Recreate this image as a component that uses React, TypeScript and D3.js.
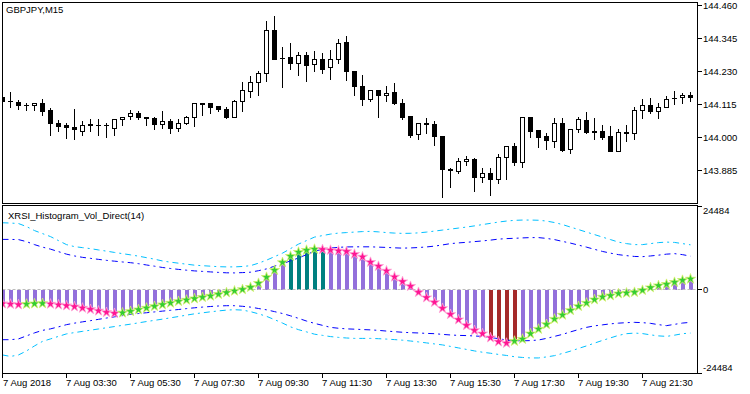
import React from "react";
import * as d3 from "d3";

// GBPJPY M15 candles, 7 Aug 2018 01:30 .. 23:00
const opens = [
  144.139, 144.126, 144.123, 144.111, 144.111, 144.118, 144.095, 144.048, 144.042, 144.035,
  144.021, 144.044, 144.044, 144.041, 144.032, 144.062, 144.074, 144.083, 144.069, 144.067,
  144.046, 144.055, 144.032, 144.048, 144.069, 144.118, 144.12, 144.109, 144.099, 144.072,
  144.125, 144.162, 144.192, 144.222, 144.373, 144.276, 144.278, 144.257, 144.285, 144.255,
  144.273, 144.243, 144.273, 144.331, 144.229, 144.178, 144.134, 144.164, 144.146, 144.157,
  144.118, 144.074, 144.011, 144.047, 144.046, 144.004, 143.887, 143.884, 143.916, 143.926,
  143.861, 143.875, 143.856, 143.93, 143.97, 143.914, 144.069, 144.025, 144.004, 143.988,
  144.048, 143.958, 144.028, 144.06, 144.019, 144.021, 144.004, 143.953, 144.016, 144.016,
  144.095, 144.113, 144.093, 144.106, 144.135, 144.139, 144.146,
];
const highs = [
  144.143, 144.162, 144.132, 144.123, 144.12, 144.137, 144.106, 144.065, 144.053, 144.102,
  144.06, 144.067, 144.067, 144.053, 144.067, 144.074, 144.099, 144.095, 144.072, 144.074,
  144.095, 144.067, 144.067, 144.076, 144.118, 144.118, 144.123, 144.113, 144.109, 144.134,
  144.195, 144.215, 144.234, 144.408, 144.426, 144.317, 144.331, 144.299, 144.299, 144.304,
  144.297, 144.306, 144.345, 144.357, 144.234, 144.22, 144.169, 144.164, 144.181, 144.192,
  144.137, 144.079, 144.053, 144.072, 144.06, 144.004, 143.898, 143.93, 143.937, 143.933,
  143.898, 143.895, 143.944, 143.974, 143.984, 144.074, 144.074, 144.03, 144.018, 144.072,
  144.072, 144.03, 144.074, 144.093, 144.069, 144.046, 144.044, 144.032, 144.046, 144.109,
  144.137, 144.141, 144.123, 144.148, 144.164, 144.157, 144.162,
];
const lows = [
  144.123, 144.106, 144.097, 144.095, 144.095, 144.079, 144.009, 144.021, 143.997, 143.993,
  144.009, 144.023, 144.009, 144.002, 144.009, 144.044, 144.062, 144.062, 144.044, 144.03,
  144.032, 144.014, 144.021, 144.046, 144.039, 144.079, 144.083, 144.09, 144.067, 144.069,
  144.093, 144.139, 144.148, 144.195, 144.271, 144.176, 144.239, 144.218, 144.195, 144.232,
  144.225, 144.204, 144.259, 144.199, 144.146, 144.111, 144.125, 144.072, 144.127, 144.116,
  144.062, 144.002, 143.995, 144.014, 143.974, 143.791, 143.828, 143.877, 143.902, 143.814,
  143.844, 143.8, 143.842, 143.856, 143.905, 143.898, 144.0, 143.967, 143.96, 143.965,
  143.953, 143.946, 144.018, 144.016, 143.993, 143.993, 143.953, 143.953, 143.988, 143.995,
  144.067, 144.086, 144.067, 144.104, 144.116, 144.118, 144.125,
];
const closes = [
  144.125, 144.125, 144.111, 144.111, 144.118, 144.093, 144.048, 144.039, 144.035, 144.028,
  144.042, 144.045, 144.044, 144.042, 144.065, 144.069, 144.083, 144.069, 144.068, 144.046,
  144.055, 144.032, 144.048, 144.072, 144.118, 144.117, 144.106, 144.097, 144.072, 144.127,
  144.164, 144.192, 144.225, 144.373, 144.273, 144.275, 144.257, 144.285, 144.25, 144.273,
  144.239, 144.273, 144.329, 144.229, 144.178, 144.134, 144.164, 144.146, 144.155, 144.118,
  144.072, 144.009, 144.048, 144.048, 144.004, 143.888, 143.888, 143.916, 143.926, 143.861,
  143.875, 143.856, 143.93, 143.97, 143.914, 144.069, 144.023, 144.002, 143.99, 144.048,
  143.956, 144.028, 144.062, 144.018, 144.02, 144.002, 143.953, 144.018, 144.017, 144.095,
  144.113, 144.093, 144.106, 144.134, 144.136, 144.146, 144.139,
];

// XRSI_Histogram_Vol_Direct(14)
const histValues = [
  -4193, -4339, -4486, -4339, -4222, -4134, -4310, -4545, -4779, -5072,
  -5483, -5864, -6304, -6744, -7037, -6890, -6450, -5952, -5483, -4984,
  -4486, -4017, -3518, -3137, -2727, -2346, -1964, -1466, -968, -498,
  -59, 586, 1759, 3518, 5571, 7828, 9676, 10848, 11435, 11728,
  11640, 11435, 11230, 11054, 10262, 9470, 7916, 6744, 5366, 3606,
  2258, 880, -880, -2434, -3812, -5571, -7330, -8884, -10555, -12021,
  -12989, -14162, -15334, -15745, -15158, -14572, -12989, -11640, -10262, -8708,
  -7535, -6157, -4984, -4017, -3020, -2258, -1847, -1261, -1085, -880,
  -293, 498, 1085, 1466, 2052, 2639, 3020,
];
// 0 = neutral, 1 = above upper level, 2 = below lower level
const histColorIndex = [
  0, 0, 0, 0, 0, 0, 0, 0, 0, 0, 0, 0, 0, 0, 0, 0, 0, 0, 0, 0,
  0, 0, 0, 0, 0, 0, 0, 0, 0, 0, 0, 0, 0, 0, 0, 0, 1, 1, 1, 1,
  1, 0, 0, 0, 0, 0, 0, 0, 0, 0, 0, 0, 0, 0, 0, 0, 0, 0, 0, 0,
  0, 2, 2, 2, 2, 0, 0, 0, 0, 0, 0, 0, 0, 0, 0, 0, 0, 0, 0, 0,
  0, 0, 0, 0, 0, 0, 0,
];
const upperOuter = [
  19439, 19351, 19205, 18325, 17152, 16273, 15393, 14220, 13047, 12461,
  12168, 11875, 11493, 11142, 10760, 10409, 10057, 9676, 9236, 8796,
  8268, 7916, 7623, 7330, 7037, 6890, 6744, 6597, 6538, 6538,
  6656, 6890, 7623, 8503, 9529, 10555, 11875, 13194, 14220, 15246,
  15686, 16126, 16419, 16566, 16712, 16859, 16918, 16771, 16566, 16419,
  16331, 16361, 16478, 16712, 17006, 17299, 17592, 17885, 18178, 18530,
  18911, 19263, 19644, 19938, 20143, 20231, 20231, 20172, 19938, 19498,
  18911, 18178, 17445, 16712, 15979, 15246, 14513, 13780, 13341, 13047,
  13047, 13341, 13634, 13780, 13692, 13341, 12989,
];
const upperInner = [
  14572, 14572, 14513, 13927, 13047, 12314, 11728, 10995, 10262, 9734,
  9324, 9031, 8737, 8444, 8210, 7975, 7770, 7477, 7095, 6744,
  6362, 6069, 5805, 5571, 5366, 5219, 5072, 4926, 4808, 4779,
  4867, 4984, 5424, 5952, 6744, 7477, 8298, 9148, 10115, 11142,
  11669, 12021, 12256, 12373, 12402, 12402, 12402, 12314, 12226, 12109,
  12021, 12080, 12197, 12373, 12608, 12959, 13341, 13546, 13722, 13927,
  14132, 14367, 14660, 14807, 14895, 15012, 15100, 15100, 14865, 14513,
  13986, 13487, 12901, 12314, 11669, 11054, 10555, 10115, 9822, 9588,
  9529, 9734, 9969, 10262, 10409, 10115, 9676,
];
const lowerInner = [
  -14748, -14748, -14513, -13634, -12754, -12021, -11581, -10995, -10350, -9910,
  -9529, -9177, -8796, -8415, -8063, -7711, -7330, -7095, -6861, -6626,
  -6392, -6157, -5923, -5659, -5424, -5219, -5043, -4896, -4808, -4808,
  -4984, -5219, -5629, -6011, -6538, -7095, -7770, -8503, -9294, -9969,
  -10555, -11142, -11405, -11581, -11669, -11787, -11875, -12021, -12226, -12402,
  -12578, -12696, -12784, -12901, -12989, -13194, -13370, -13487, -13546, -13663,
  -13780, -14074, -14455, -14836, -15041, -15071, -15012, -14836, -14367, -13780,
  -13194, -12461, -11787, -11142, -10702, -10409, -10115, -9910, -9764, -9676,
  -9764, -9969, -10350, -10643, -10262, -9881, -9676,
];
const lowerOuter = [
  -19205, -19644, -19205, -18032, -16566, -15246, -14513, -13780, -13047, -12666,
  -12314, -11963, -11611, -11259, -10907, -10555, -10203, -9822, -9441, -9089,
  -8737, -8356, -7975, -7565, -7183, -6890, -6597, -6333, -6099, -5981,
  -6099, -6538, -7183, -7916, -8884, -9881, -10995, -11816, -12461, -13135,
  -13487, -13839, -14074, -14250, -14367, -14367, -14367, -14455, -14572, -14719,
  -14895, -15129, -15393, -15686, -15979, -16273, -16712, -17152, -17592, -18032,
  -18413, -18706, -19058, -19351, -19732, -19938, -20084, -20084, -19791, -19410,
  -18765, -18090, -17299, -16566, -15745, -14953, -14220, -13487, -12989, -12813,
  -12960, -13341, -13634, -13780, -13429, -12989, -12813,
];

const priceTicks = [144.46, 144.345, 144.23, 144.115, 144.0, 143.885];
const indTicks = [24484, 0, -24484];
const timeLabels = [
  "7 Aug 2018", "7 Aug 03:30", "7 Aug 05:30", "7 Aug 07:30", "7 Aug 09:30", "7 Aug 11:30",
  "7 Aug 13:30", "7 Aug 15:30", "7 Aug 17:30", "7 Aug 19:30", "7 Aug 21:30",
];
const timeLabelBars = [0, 8, 16, 24, 32, 40, 48, 56, 64, 72, 80];

const FONT = "'Liberation Sans', Arial, sans-serif";
const histColors = ["#9370DB", "#008080", "#A52A2A"];

export default function App() {
  const n = opens.length;
  const left = 2.5;
  const right = 697.5;
  const mainTop = 2.5;
  const mainBottom = 203.5;
  const indTop = 205.5;
  const indBottom = 373.5;

  const x = d3.scaleLinear().domain([0, n - 1]).range([2.5, 2.5 + 8 * (n - 1)]);
  const yP = d3.scaleLinear().domain([143.885, 144.46]).range([170.3, 5]);
  const yI = d3.scaleLinear().domain([-24484, 24484]).range([373, 205.5]);

  const band = d3
    .line<number>()
    .x((_, i) => x(i))
    .y((v) => yI(v));

  const star = d3.symbol().type(d3.symbolStar).size(32)();
  const snap = (v: number) => Math.round(v) + 0.5;

  const candles = opens.map((o, i) => {
    const c = closes[i];
    const cx = x(i);
    const yTop = snap(yP(Math.max(o, c)));
    const yBot = snap(yP(Math.min(o, c)));
    const wick = (
      <line x1={cx} x2={cx} y1={snap(yP(highs[i]))} y2={snap(yP(lows[i]))} stroke="#000" />
    );
    let body;
    if (yBot - yTop < 1) {
      body = <line x1={cx - 2.5} x2={cx + 2.5} y1={yTop} y2={yTop} stroke="#000" />;
    } else {
      body = (
        <rect
          x={cx - 2}
          y={yTop}
          width={4}
          height={yBot - yTop}
          fill={c > o ? "#fff" : "#000"}
          stroke="#000"
        />
      );
    }
    return (
      <g key={i}>
        {wick}
        {body}
      </g>
    );
  });

  const zeroY = Math.round(yI(0)) + 0.5;

  return (
    <>
      <style>{`body{margin:0;background:#fff}`}</style>
      <svg width={750} height={394} style={{ display: "block", fontFamily: FONT }}>
        <defs>
          <clipPath id="mainClip">
            <rect x={left} y={mainTop} width={right - left} height={mainBottom - mainTop} />
          </clipPath>
          <clipPath id="indClip">
            <rect x={left} y={indTop} width={right - left} height={indBottom - indTop} />
          </clipPath>
        </defs>
        <rect width={750} height={394} fill="#fff" />

        {/* price panel */}
        <g clipPath="url(#mainClip)" shapeRendering="crispEdges">
          {candles}
        </g>
        <text x={6} y={13} fontSize={9.5} fill="#000">
          GBPJPY,M15
        </text>

        {/* indicator panel */}
        <g clipPath="url(#indClip)">
          <g shapeRendering="crispEdges">
            {histValues.map((v, i) => (
              <rect
                key={i}
                x={x(i) - 2}
                y={Math.min(yI(v), zeroY)}
                width={4}
                height={Math.abs(yI(v) - zeroY)}
                fill={histColors[histColorIndex[i]]}
              />
            ))}
          </g>
          <line
            x1={left}
            x2={right}
            y1={zeroY}
            y2={zeroY}
            stroke="#bdbdbd"
            strokeDasharray="3,2"
          />
          {[upperOuter, lowerOuter].map((d, k) => (
            <path key={"o" + k} d={band(d) || ""} fill="none" stroke="#00BFFF" strokeDasharray="6,4,2,4" />
          ))}
          {[upperInner, lowerInner].map((d, k) => (
            <path key={"i" + k} d={band(d) || ""} fill="none" stroke="#0000FF" strokeDasharray="6,4,2,4" />
          ))}
          {histValues.map((v, i) => {
            const up = i > 0 && v > histValues[i - 1];
            return (
              <path
                key={i}
                d={star || ""}
                transform={`translate(${x(i)},${yI(v)})`}
                fill={up ? "#32CD32" : "#FF1493"}
                stroke={up ? "#d8f070" : "#ffa8d8"}
                strokeWidth={0.8}
              />
            );
          })}
        </g>
        <text x={8} y={218.5} fontSize={9.5} fill="#000">
          XRSI_Histogram_Vol_Direct(14)
        </text>

        {/* frames */}
        <g fill="none" stroke="#000" shapeRendering="crispEdges">
          <rect x={left} y={mainTop} width={right - left} height={mainBottom - mainTop} />
          <rect x={left} y={indTop} width={right - left} height={indBottom - indTop} />
        </g>

        {/* price axis */}
        {priceTicks.map((p) => {
          const yy = snap(yP(p));
          return (
            <g key={p}>
              <line x1={right} x2={right + 4} y1={yy} y2={yy} stroke="#000" shapeRendering="crispEdges" />
              <text x={703} y={yy} dy="0.35em" fontSize={9.5} fill="#000">
                {p.toFixed(3)}
              </text>
            </g>
          );
        })}

        {/* indicator axis */}
        {indTicks.map((v) => {
          const yy = snap(yI(v));
          const ly = Math.min(Math.max(yy, indTop + 5), indBottom - 6);
          return (
            <g key={v}>
              <line x1={right} x2={right + 4} y1={yy} y2={yy} stroke="#000" shapeRendering="crispEdges" />
              <text x={703} y={ly} dy="0.35em" fontSize={9.5} fill="#000">
                {v}
              </text>
            </g>
          );
        })}

        {/* time axis */}
        {timeLabelBars.map((b, k) => {
          const xx = x(b);
          return (
            <g key={b}>
              <line x1={xx} x2={xx} y1={indBottom} y2={indBottom + 4} stroke="#000" shapeRendering="crispEdges" />
              <text x={Math.max(xx - 0.5, 3)} y={386} fontSize={9.5} fill="#000">
                {timeLabels[k]}
              </text>
            </g>
          );
        })}
      </svg>
    </>
  );
}
